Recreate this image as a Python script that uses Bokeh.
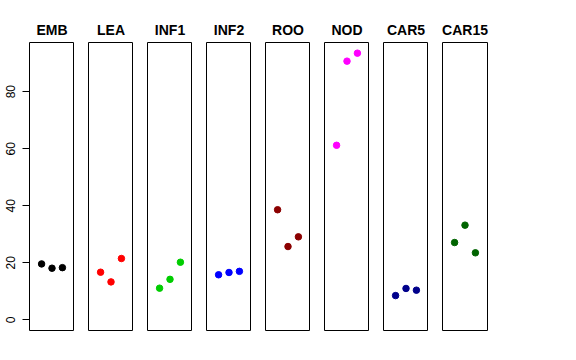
from bokeh.plotting import figure
from bokeh.layouts import row
from bokeh.models import Range1d, FixedTicker
from bokeh.embed import file_html
from bokeh.resources import INLINE

categories = ["EMB", "LEA", "INF1", "INF2", "ROO", "NOD", "CAR5", "CAR15"]
colors = ["#000000", "#FF0000", "#00CD00", "#0000FF", "#8B0000", "#FF00FF", "#00008B", "#006400"]
rep_x = [1, 2, 3]
emb = [19.6, 18.1, 18.3]
lea = [16.7, 13.3, 21.5]
inf1 = [11.1, 14.2, 20.2]
inf2 = [15.8, 16.6, 17.0]
roo = [38.6, 25.7, 29.1]
nod = [61.2, 90.7, 93.5]
car5 = [8.5, 11.0, 10.4]
car15 = [27.1, 33.2, 23.5]
series = [emb, lea, inf1, inf2, roo, nod, car5, car15]
y_ticks = [0, 20, 40, 60, 80]

ymax = max(max(s) for s in series)
ypad = ymax * 0.04
figs = []
n = len(categories)
for i, (name, col, vals) in enumerate(zip(categories, colors, series)):
    p = figure(frame_width=45, frame_height=288, output_backend="svg",
               toolbar_location=None, title=name,
               x_range=Range1d(-0.16, 4.16), y_range=Range1d(0 - ypad, ymax + ypad),
               min_border_left=(29 if i == 0 else 14),
               min_border_right=(12 if i == n - 1 else 0),
               min_border_top=42, min_border_bottom=10)
    p.title.align = "center"
    p.title.text_font = "Liberation Sans"
    p.title.text_font_size = "14px"
    p.title.text_font_style = "bold"
    p.title.text_color = "black"
    p.title.standoff = 9
    p.xaxis.visible = False
    if i == 0:
        ax = p.yaxis[0]
        ax.ticker = FixedTicker(ticks=y_ticks)
        ax.axis_line_color = None
        ax.major_tick_out = 7
        ax.major_tick_in = 0
        ax.minor_tick_line_color = None
        ax.major_tick_line_color = "black"
        ax.major_label_orientation = "vertical"
        ax.major_label_text_font = "Liberation Sans"
        ax.major_label_text_font_size = "12px"
        ax.major_label_text_color = "black"
        ax.major_label_standoff = 7
    else:
        p.yaxis.visible = False
    p.xgrid.visible = False
    p.ygrid.visible = False
    p.outline_line_color = "black"
    p.outline_line_width = 1
    p.scatter(rep_x, vals, size=6.5, color=col)
    figs.append(p)

layout = row(*figs, spacing=0)
open("out.html", "w").write(file_html(layout, INLINE))
